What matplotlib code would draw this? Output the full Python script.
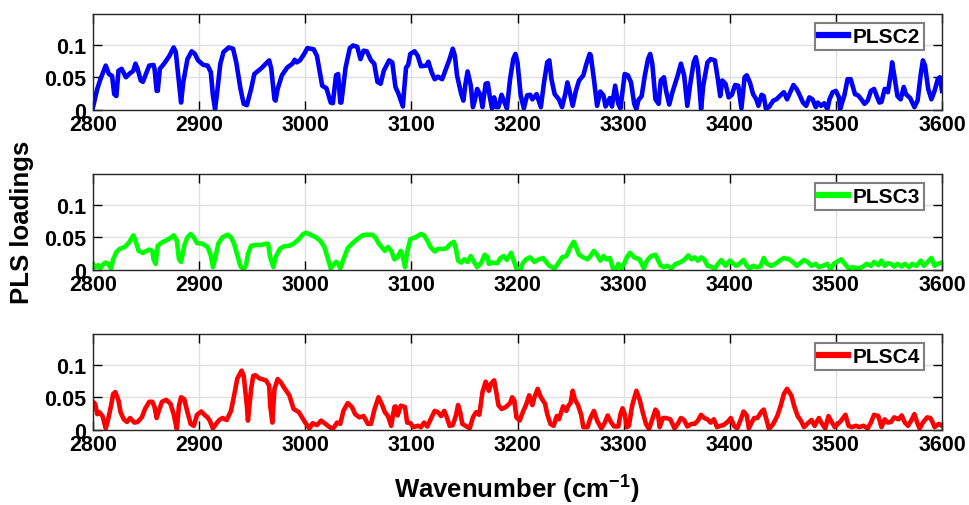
import matplotlib
matplotlib.use("Agg")
import matplotlib.pyplot as plt
from matplotlib.ticker import FixedLocator

plt.rcParams['font.family'] = ['Liberation Sans', 'DejaVu Sans']
plt.rcParams['font.weight'] = 'bold'
plt.rcParams['mathtext.fontset'] = 'custom'
plt.rcParams['mathtext.rm'] = 'Liberation Sans:bold'
plt.rcParams['mathtext.bf'] = 'Liberation Sans:bold'
plt.rcParams['mathtext.default'] = 'bf'

# ---------------- data ----------------
wn_c2 = [2800, 2804, 2807, 2812, 2815, 2818, 2820, 2822, 2824, 2827, 2831, 2834, 2838, 2840, 2842,
         2845, 2847, 2853, 2857, 2858, 2860, 2861, 2863, 2867, 2872, 2876, 2878, 2881, 2883, 2885,
         2889, 2893, 2896, 2899, 2904, 2908, 2911, 2913, 2915, 2917, 2920, 2923, 2928, 2932, 2935,
         2939, 2942, 2945, 2949, 2952, 2955, 2958, 2963, 2966, 2968, 2971, 2972, 2974, 2978, 2983,
         2988, 2990, 2992, 2995, 2999, 3002, 3008, 3011, 3016, 3020, 3024, 3026, 3029, 3031, 3033,
         3034, 3038, 3042, 3045, 3049, 3052, 3055, 3058, 3062, 3065, 3068, 3071, 3074, 3079, 3082,
         3085, 3088, 3092, 3093, 3095, 3097, 3099, 3103, 3106, 3109, 3114, 3116, 3119, 3122, 3125,
         3129, 3133, 3136, 3139, 3141, 3143, 3147, 3149, 3151, 3153, 3156, 3158, 3160, 3162, 3165,
         3167, 3170, 3172, 3174, 3176, 3178, 3180, 3182, 3185, 3187, 3190, 3193, 3196, 3198, 3200,
         3203, 3206, 3209, 3212, 3214, 3218, 3222, 3225, 3228, 3230, 3232, 3235, 3239, 3242, 3245,
         3247, 3249, 3252, 3255, 3258, 3262, 3265, 3268, 3269, 3272, 3275, 3278, 3281, 3283, 3287,
         3289, 3292, 3295, 3297, 3301, 3304, 3307, 3310, 3312, 3314, 3317, 3320, 3323, 3325, 3327,
         3330, 3333, 3335, 3338, 3340, 3343, 3346, 3351, 3354, 3357, 3360, 3363, 3366, 3368, 3370,
         3373, 3375, 3379, 3382, 3386, 3389, 3391, 3393, 3396, 3399, 3402, 3405, 3408, 3411, 3414,
         3416, 3419, 3422, 3425, 3427, 3430, 3432, 3434, 3437, 3441, 3444, 3447, 3451, 3454, 3457,
         3460, 3463, 3466, 3469, 3472, 3475, 3478, 3481, 3483, 3486, 3489, 3492, 3494, 3497, 3500,
         3503, 3504, 3508, 3511, 3514, 3518, 3521, 3524, 3527, 3530, 3533, 3536, 3539, 3541, 3543,
         3546, 3549, 3552, 3553, 3555, 3558, 3561, 3564, 3566, 3570, 3574, 3577, 3580, 3582, 3584,
         3587, 3590, 3593, 3596, 3598, 3600]
ld_c2 = [0.004, 0.032, 0.047, 0.068, 0.055, 0.052, 0.024, 0.021, 0.060, 0.063, 0.050, 0.055, 0.060, 0.071, 0.063,
         0.045, 0.043, 0.068, 0.069, 0.063, 0.029, 0.029, 0.063, 0.071, 0.083, 0.096, 0.089, 0.042, 0.011, 0.042,
         0.078, 0.090, 0.086, 0.076, 0.069, 0.068, 0.058, 0.022, 0.001, 0.027, 0.071, 0.089, 0.096, 0.094, 0.073,
         0.032, 0.009, 0.007, 0.032, 0.055, 0.059, 0.063, 0.071, 0.076, 0.063, 0.016, 0.014, 0.032, 0.053, 0.065,
         0.071, 0.077, 0.073, 0.076, 0.086, 0.095, 0.093, 0.083, 0.037, 0.033, 0.011, 0.010, 0.053, 0.055, 0.011,
         0.011, 0.065, 0.095, 0.099, 0.097, 0.078, 0.091, 0.090, 0.076, 0.071, 0.043, 0.040, 0.060, 0.076, 0.073,
         0.035, 0.024, 0.005, 0.027, 0.065, 0.069, 0.086, 0.090, 0.083, 0.067, 0.068, 0.074, 0.058, 0.047, 0.051,
         0.047, 0.065, 0.078, 0.094, 0.083, 0.053, 0.024, 0.014, 0.040, 0.059, 0.037, 0.004, 0.016, 0.032, 0.023,
         0.004, 0.040, 0.041, 0.019, 0.002, 0.019, 0.004, 0.004, 0.023, 0.014, 0.002, 0.047, 0.078, 0.086, 0.073,
         0.022, 0.002, 0.022, 0.023, 0.016, 0.024, 0.004, 0.042, 0.073, 0.076, 0.047, 0.024, 0.016, 0.004, 0.024,
         0.042, 0.029, 0.006, 0.029, 0.045, 0.053, 0.071, 0.086, 0.084, 0.047, 0.006, 0.028, 0.022, 0.005, 0.018,
         0.005, 0.037, 0.009, 0.002, 0.055, 0.053, 0.042, 0.009, 0.001, 0.015, 0.021, 0.053, 0.078, 0.086, 0.071,
         0.016, 0.009, 0.045, 0.050, 0.029, 0.008, 0.027, 0.053, 0.071, 0.053, 0.006, 0.042, 0.073, 0.081, 0.065,
         0.001, 0.037, 0.073, 0.078, 0.076, 0.045, 0.021, 0.045, 0.040, 0.019, 0.023, 0.038, 0.037, 0.002, 0.050,
         0.053, 0.042, 0.024, 0.016, 0.006, 0.023, 0.021, 0.002, 0.004, 0.014, 0.016, 0.021, 0.027, 0.016, 0.027,
         0.038, 0.032, 0.022, 0.011, 0.006, 0.019, 0.016, 0.004, 0.011, 0.006, 0.010, 0.001, 0.016, 0.027, 0.029,
         0.019, 0.001, 0.022, 0.047, 0.047, 0.024, 0.022, 0.016, 0.009, 0.014, 0.029, 0.032, 0.019, 0.011, 0.012,
         0.032, 0.027, 0.058, 0.073, 0.053, 0.021, 0.016, 0.035, 0.024, 0.018, 0.004, 0.014, 0.055, 0.076, 0.068,
         0.032, 0.016, 0.029, 0.047, 0.050, 0.029]

wn_c3 = [2800, 2802, 2805, 2807, 2810, 2812, 2814, 2817, 2819, 2822, 2825, 2830, 2834, 2838, 2840,
         2843, 2847, 2853, 2856, 2857, 2859, 2861, 2865, 2870, 2874, 2876, 2879, 2881, 2883, 2886,
         2889, 2892, 2895, 2898, 2903, 2908, 2911, 2913, 2916, 2918, 2922, 2927, 2930, 2933, 2936,
         2939, 2942, 2944, 2946, 2949, 2953, 2958, 2963, 2965, 2967, 2970, 2972, 2976, 2980, 2985,
         2989, 2994, 2998, 3001, 3005, 3010, 3014, 3018, 3021, 3024, 3026, 3029, 3031, 3033, 3036,
         3040, 3044, 3049, 3054, 3058, 3063, 3066, 3069, 3072, 3075, 3078, 3081, 3084, 3087, 3090,
         3092, 3094, 3096, 3099, 3104, 3109, 3112, 3115, 3118, 3122, 3125, 3129, 3133, 3137, 3140,
         3142, 3144, 3147, 3150, 3153, 3156, 3159, 3162, 3166, 3169, 3172, 3173, 3176, 3181, 3184,
         3187, 3190, 3194, 3196, 3199, 3203, 3205, 3208, 3212, 3216, 3219, 3224, 3227, 3230, 3235,
         3238, 3242, 3246, 3250, 3253, 3255, 3258, 3262, 3266, 3269, 3272, 3275, 3278, 3281, 3284,
         3287, 3290, 3293, 3295, 3298, 3301, 3303, 3306, 3310, 3315, 3319, 3322, 3326, 3330, 3335,
         3338, 3341, 3345, 3349, 3353, 3357, 3361, 3364, 3367, 3370, 3373, 3376, 3379, 3382, 3386,
         3389, 3392, 3396, 3400, 3403, 3406, 3409, 3413, 3416, 3419, 3422, 3425, 3429, 3432, 3435,
         3439, 3443, 3447, 3451, 3456, 3460, 3463, 3467, 3470, 3474, 3477, 3481, 3484, 3488, 3492,
         3495, 3498, 3501, 3505, 3508, 3512, 3516, 3520, 3525, 3529, 3533, 3536, 3540, 3543, 3546,
         3549, 3552, 3555, 3558, 3562, 3565, 3569, 3572, 3576, 3580, 3583, 3586, 3590, 3593, 3596,
         3600]
ld_c3 = [0.009, 0.004, 0.007, 0.002, 0.009, 0.011, 0.009, 0.002, 0.016, 0.027, 0.032, 0.035, 0.042, 0.053, 0.045,
         0.029, 0.026, 0.031, 0.029, 0.016, 0.009, 0.037, 0.042, 0.046, 0.050, 0.053, 0.045, 0.016, 0.012, 0.037,
         0.050, 0.055, 0.050, 0.041, 0.040, 0.035, 0.022, 0.004, 0.024, 0.040, 0.050, 0.054, 0.050, 0.040, 0.022,
         0.005, 0.001, 0.006, 0.024, 0.037, 0.038, 0.038, 0.040, 0.040, 0.019, 0.004, 0.019, 0.032, 0.036, 0.037,
         0.040, 0.047, 0.055, 0.057, 0.054, 0.050, 0.045, 0.035, 0.019, 0.002, 0.006, 0.012, 0.010, 0.002, 0.016,
         0.033, 0.040, 0.047, 0.053, 0.054, 0.054, 0.050, 0.041, 0.035, 0.029, 0.035, 0.029, 0.016, 0.019, 0.029,
         0.020, 0.004, 0.027, 0.047, 0.050, 0.055, 0.053, 0.045, 0.035, 0.028, 0.032, 0.032, 0.033, 0.040, 0.043,
         0.032, 0.014, 0.011, 0.016, 0.012, 0.021, 0.012, 0.004, 0.011, 0.023, 0.019, 0.009, 0.011, 0.010, 0.018,
         0.021, 0.015, 0.026, 0.016, 0.002, 0.001, 0.010, 0.016, 0.019, 0.012, 0.015, 0.018, 0.012, 0.006, 0.002,
         0.009, 0.019, 0.021, 0.035, 0.043, 0.036, 0.023, 0.019, 0.016, 0.022, 0.029, 0.023, 0.014, 0.021, 0.016,
         0.018, 0.002, 0.001, 0.009, 0.002, 0.011, 0.019, 0.026, 0.019, 0.016, 0.002, 0.014, 0.021, 0.023, 0.006,
         0.004, 0.006, 0.002, 0.009, 0.011, 0.015, 0.022, 0.016, 0.019, 0.014, 0.019, 0.016, 0.006, 0.005, 0.002,
         0.009, 0.015, 0.006, 0.014, 0.010, 0.006, 0.009, 0.015, 0.006, 0.002, 0.006, 0.004, 0.005, 0.018, 0.009,
         0.006, 0.009, 0.014, 0.018, 0.016, 0.011, 0.006, 0.011, 0.015, 0.011, 0.006, 0.009, 0.004, 0.006, 0.009,
         0.001, 0.009, 0.012, 0.016, 0.010, 0.002, 0.004, 0.002, 0.004, 0.009, 0.006, 0.012, 0.007, 0.014, 0.006,
         0.010, 0.009, 0.005, 0.009, 0.005, 0.009, 0.004, 0.009, 0.006, 0.014, 0.006, 0.011, 0.018, 0.006, 0.009,
         0.011]

wn_c4 = [2800, 2802, 2804, 2806, 2809, 2812, 2814, 2817, 2819, 2821, 2824, 2826, 2829, 2832, 2835,
         2839, 2842, 2846, 2849, 2853, 2856, 2858, 2860, 2862, 2865, 2869, 2873, 2876, 2879, 2881,
         2883, 2886, 2889, 2892, 2895, 2898, 2902, 2905, 2908, 2910, 2913, 2916, 2919, 2922, 2926,
         2930, 2933, 2936, 2940, 2942, 2945, 2946, 2949, 2951, 2953, 2957, 2963, 2966, 2967, 2969,
         2971, 2974, 2977, 2980, 2985, 2989, 2994, 2997, 3000, 3004, 3007, 3011, 3015, 3019, 3023,
         3026, 3030, 3033, 3036, 3040, 3044, 3047, 3051, 3055, 3059, 3062, 3065, 3069, 3072, 3075,
         3078, 3081, 3084, 3085, 3087, 3090, 3094, 3096, 3099, 3102, 3106, 3109, 3112, 3115, 3119,
         3122, 3125, 3128, 3131, 3133, 3136, 3139, 3142, 3144, 3146, 3148, 3152, 3155, 3158, 3161,
         3164, 3167, 3170, 3173, 3175, 3178, 3180, 3182, 3185, 3189, 3193, 3195, 3197, 3199, 3202,
         3205, 3208, 3211, 3214, 3216, 3219, 3222, 3226, 3228, 3231, 3234, 3237, 3239, 3243, 3246,
         3248, 3250, 3252, 3254, 3257, 3260, 3262, 3266, 3269, 3272, 3275, 3279, 3282, 3285, 3288,
         3291, 3295, 3297, 3299, 3301, 3303, 3305, 3308, 3312, 3315, 3318, 3321, 3324, 3327, 3330,
         3332, 3334, 3337, 3340, 3344, 3348, 3351, 3354, 3357, 3360, 3364, 3367, 3370, 3373, 3376,
         3379, 3382, 3385, 3388, 3391, 3394, 3398, 3401, 3404, 3407, 3410, 3413, 3416, 3418, 3420,
         3423, 3426, 3430, 3432, 3434, 3437, 3441, 3445, 3448, 3451, 3454, 3458, 3461, 3464, 3467,
         3470, 3473, 3477, 3480, 3484, 3487, 3490, 3493, 3496, 3499, 3502, 3505, 3509, 3512, 3515,
         3519, 3522, 3526, 3530, 3533, 3536, 3540, 3543, 3546, 3549, 3552, 3555, 3559, 3562, 3565,
         3568, 3571, 3574, 3577, 3579, 3582, 3586, 3589, 3591, 3593, 3597, 3600]
ld_c4 = [0.043, 0.040, 0.024, 0.027, 0.021, 0.002, 0.014, 0.037, 0.055, 0.058, 0.045, 0.027, 0.016, 0.012, 0.018,
         0.011, 0.012, 0.019, 0.032, 0.043, 0.043, 0.035, 0.018, 0.029, 0.043, 0.046, 0.040, 0.024, 0.001, 0.037,
         0.050, 0.047, 0.027, 0.009, 0.006, 0.023, 0.028, 0.023, 0.019, 0.014, 0.002, 0.009, 0.015, 0.018, 0.015,
         0.029, 0.053, 0.079, 0.091, 0.083, 0.037, 0.014, 0.063, 0.083, 0.084, 0.079, 0.076, 0.068, 0.037, 0.011,
         0.063, 0.078, 0.073, 0.065, 0.053, 0.032, 0.027, 0.019, 0.011, 0.002, 0.010, 0.007, 0.014, 0.009, 0.004,
         0.001, 0.011, 0.009, 0.029, 0.041, 0.035, 0.024, 0.019, 0.021, 0.009, 0.009, 0.030, 0.050, 0.040, 0.027,
         0.021, 0.006, 0.035, 0.036, 0.022, 0.037, 0.035, 0.011, 0.010, 0.004, 0.006, 0.004, 0.011, 0.005, 0.019,
         0.029, 0.027, 0.021, 0.029, 0.021, 0.006, 0.007, 0.022, 0.038, 0.027, 0.009, 0.005, 0.002, 0.019, 0.027,
         0.023, 0.058, 0.074, 0.060, 0.071, 0.076, 0.058, 0.038, 0.032, 0.035, 0.041, 0.050, 0.045, 0.019, 0.014,
         0.027, 0.038, 0.053, 0.038, 0.050, 0.063, 0.050, 0.040, 0.024, 0.009, 0.006, 0.021, 0.016, 0.036, 0.029,
         0.037, 0.041, 0.060, 0.047, 0.038, 0.023, 0.004, 0.004, 0.019, 0.029, 0.014, 0.002, 0.010, 0.022, 0.012,
         0.005, 0.005, 0.024, 0.033, 0.024, 0.004, 0.006, 0.037, 0.060, 0.047, 0.027, 0.009, 0.001, 0.016, 0.031,
         0.027, 0.004, 0.018, 0.018, 0.016, 0.002, 0.009, 0.018, 0.015, 0.005, 0.009, 0.009, 0.014, 0.023, 0.018,
         0.016, 0.011, 0.016, 0.004, 0.006, 0.007, 0.012, 0.018, 0.006, 0.002, 0.014, 0.028, 0.022, 0.002, 0.009,
         0.018, 0.018, 0.028, 0.031, 0.019, 0.001, 0.009, 0.022, 0.037, 0.055, 0.063, 0.053, 0.035, 0.021, 0.014,
         0.004, 0.009, 0.015, 0.006, 0.018, 0.009, 0.002, 0.021, 0.012, 0.004, 0.009, 0.014, 0.023, 0.006, 0.004,
         0.006, 0.004, 0.006, 0.002, 0.011, 0.023, 0.021, 0.004, 0.016, 0.011, 0.012, 0.019, 0.016, 0.022, 0.011,
         0.006, 0.014, 0.024, 0.009, 0.002, 0.011, 0.019, 0.018, 0.012, 0.004, 0.009, 0.006]

series = [("PLSC2", wn_c2, ld_c2, "#0000ff"),
          ("PLSC3", wn_c3, ld_c3, "#00ff00"),
          ("PLSC4", wn_c4, ld_c4, "#ff0000")]

x_ticks = [2800, 2900, 3000, 3100, 3200, 3300, 3400, 3500, 3600]
y_ticks = [0, 0.05, 0.1]
y_tick_labels = ["0", "0.05", "0.1"]

# ---------------- figure ----------------
W, H = 970, 506
fig = plt.figure(figsize=(W / 100, H / 100), dpi=100)

left = 93 / W
width = 849 / W
ax_h = 96 / H
bottoms_px = [110.7, 270.7, 430.7]

fs = 15.5
for (name, wn, ld, col), bpx in zip(series, bottoms_px):
    ax = fig.add_axes([left, 1 - bpx / H, width, ax_h])
    ax.plot(wn, ld, color=col, lw=3.3, label=name, solid_joinstyle='round')
    ax.set_xlim(2800, 3600)
    ax.set_ylim(0, 0.148)
    ax.xaxis.set_major_locator(FixedLocator(x_ticks))
    ax.set_xticklabels([str(t) for t in x_ticks], fontsize=fs, fontweight='bold')
    ax.set_yticks(y_ticks)
    ax.set_yticklabels(y_tick_labels, fontsize=fs, fontweight='bold')
    ax.grid(True, color='#e0e0e0', lw=1.0)
    ax.set_axisbelow(True)
    ax.tick_params(axis='x', direction='in', length=6.5, width=1.0, top=True,
                   pad=3, colors='black')
    ax.tick_params(axis='y', direction='in', length=6.5, width=1.0, right=True,
                   pad=5, colors='black')
    for sp in ax.spines.values():
        sp.set_linewidth(1.0)
        sp.set_color('#262626')
    leg = ax.legend(loc='upper right', bbox_to_anchor=(0.9788, 0.903),
                    frameon=True, fancybox=False,
                    handlelength=1.4, handletextpad=0.2, borderpad=0.2,
                    borderaxespad=0.0, prop={'weight': 'bold', 'size': 15})
    leg.get_frame().set_edgecolor('#808080')
    leg.get_frame().set_linewidth(1.5)
    leg.get_frame().set_alpha(1)
    for lh in leg.get_lines():
        lh.set_linewidth(4.5)

fig.text(22 / W, 1 - 222 / H, "PLS loadings", rotation=90, ha='center', va='center',
         fontsize=18.5, fontweight='bold')
fig.text(517 / W, 1 - 490 / H, "Wavenumber (cm$^{-1}$)", ha='center', va='center',
         fontsize=18.5, fontweight='bold')

fig.savefig("out.png", dpi=100)
